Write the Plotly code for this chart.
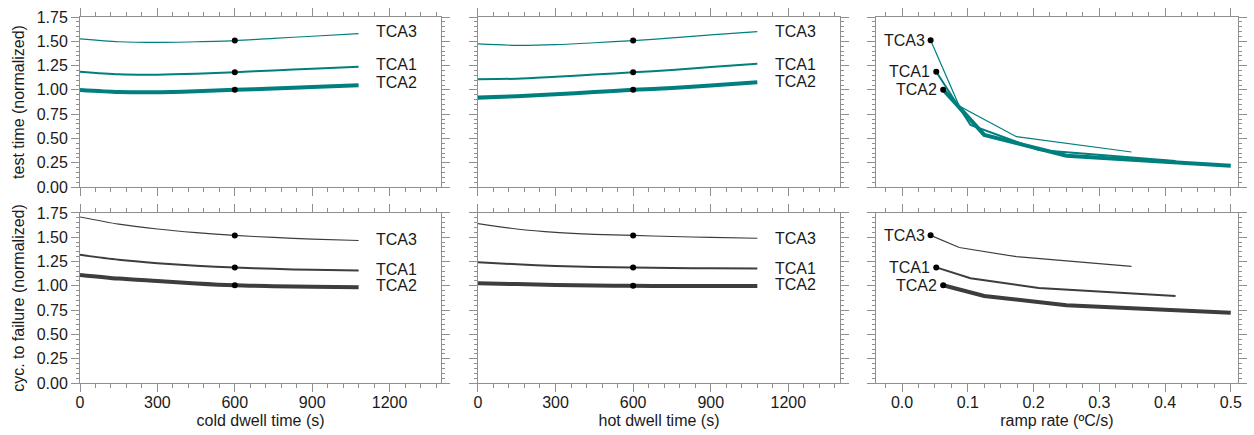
import plotly.graph_objects as go
from plotly.subplots import make_subplots

# ---------------- data ----------------
series_names = ["TCA3", "TCA1", "TCA2"]

dwell_x = [0, 150, 300, 450, 600, 750, 900, 1080]

cold_test_tca3 = [1.525, 1.495, 1.488, 1.495, 1.507, 1.530, 1.552, 1.579]
cold_test_tca1 = [1.187, 1.160, 1.156, 1.165, 1.181, 1.200, 1.218, 1.239]
cold_test_tca2 = [0.999, 0.978, 0.975, 0.985, 1.000, 1.015, 1.030, 1.047]

hot_test_tca3 = [1.473, 1.458, 1.465, 1.485, 1.507, 1.535, 1.565, 1.600]
hot_test_tca1 = [1.109, 1.115, 1.135, 1.157, 1.180, 1.205, 1.235, 1.270]
hot_test_tca2 = [0.920, 0.935, 0.955, 0.977, 1.000, 1.020, 1.045, 1.078]

cold_cyc_tca3 = [1.709, 1.635, 1.585, 1.548, 1.519, 1.498, 1.482, 1.467]
cold_cyc_tca1 = [1.319, 1.268, 1.233, 1.207, 1.188, 1.175, 1.165, 1.157]
cold_cyc_tca2 = [1.113, 1.075, 1.050, 1.025, 1.006, 0.997, 0.990, 0.986]

hot_cyc_tca3 = [1.640, 1.585, 1.550, 1.530, 1.519, 1.508, 1.498, 1.490]
hot_cyc_tca1 = [1.243, 1.222, 1.205, 1.195, 1.188, 1.183, 1.180, 1.178]
hot_cyc_tca2 = [1.027, 1.018, 1.010, 1.004, 1.000, 0.999, 0.999, 0.999]

ramp_x_tca3 = [0.0434, 0.087, 0.174, 0.349]
ramp_x_tca1 = [0.052, 0.104, 0.208, 0.416]
ramp_x_tca2 = [0.0625, 0.125, 0.25, 0.5]

ramp_test_tca3 = [1.511, 0.834, 0.518, 0.360]
ramp_test_tca1 = [1.187, 0.638, 0.381, 0.268]
ramp_test_tca2 = [1.002, 0.536, 0.322, 0.220]

ramp_cyc_tca3 = [1.520, 1.395, 1.300, 1.200]
ramp_cyc_tca1 = [1.190, 1.078, 0.978, 0.896]
ramp_cyc_tca2 = [1.006, 0.896, 0.800, 0.723]

# reference point (nominal dwell 600 s)
ref_dwell = 600

# label heights for the dwell panels
label_y_cold_test = [1.596, 1.256, 1.071]
label_y_hot_test = [1.596, 1.262, 1.081]
label_y_cold_cyc = [1.474, 1.164, 1.004]
label_y_hot_cyc = [1.485, 1.175, 1.009]

y_ticks = [0, 0.25, 0.5, 0.75, 1.0, 1.25, 1.5, 1.75]
dwell_ticks = [0, 300, 600, 900, 1200]
ramp_ticks = [0.0, 0.1, 0.2, 0.3, 0.4, 0.5]

# ---------------- style ----------------
TEAL = "#007f7f"
DARK = "#3d3d3d"
AXC = "#8f8f8f"
FONT = "Liberation Sans, Arial, sans-serif"
FS = 16
widths = [1.2, 2.0, 4.0]

fig = make_subplots(rows=2, cols=3)

panels = [
    (1, 1, dwell_x, [cold_test_tca3, cold_test_tca1, cold_test_tca2], TEAL, label_y_cold_test),
    (1, 2, dwell_x, [hot_test_tca3, hot_test_tca1, hot_test_tca2], TEAL, label_y_hot_test),
    (2, 1, dwell_x, [cold_cyc_tca3, cold_cyc_tca1, cold_cyc_tca2], DARK, label_y_cold_cyc),
    (2, 2, dwell_x, [hot_cyc_tca3, hot_cyc_tca1, hot_cyc_tca2], DARK, label_y_hot_cyc),
]

annotations = []

def axref(row, col):
    n = (row - 1) * 3 + col
    return ("x" if n == 1 else f"x{n}"), ("y" if n == 1 else f"y{n}")

for row, col, xs, ys_list, color, label_ys in panels:
    xr, yr = axref(row, col)
    for name, ys, w, ly in zip(series_names, ys_list, widths, label_ys):
        fig.add_trace(go.Scatter(x=xs, y=ys, mode="lines", line=dict(color=color, width=w, shape="spline", smoothing=0.8),
                                 showlegend=False, hoverinfo="skip"), row=row, col=col)
        idx = xs.index(ref_dwell)
        fig.add_trace(go.Scatter(x=[ref_dwell], y=[ys[idx]], mode="markers",
                                 marker=dict(color="black", size=6), showlegend=False, hoverinfo="skip"),
                      row=row, col=col)
        annotations.append(dict(x=1140, y=ly, xref=xr, yref=yr, text=name, showarrow=False,
                                xanchor="left", yanchor="middle", font=dict(family=FONT, size=FS, color="#1a1a1a")))

ramp_panels = [
    (1, 3, [ramp_test_tca3, ramp_test_tca1, ramp_test_tca2], TEAL),
    (2, 3, [ramp_cyc_tca3, ramp_cyc_tca1, ramp_cyc_tca2], DARK),
]
ramp_xs = [ramp_x_tca3, ramp_x_tca1, ramp_x_tca2]
for row, col, ys_list, color in ramp_panels:
    xr, yr = axref(row, col)
    for name, xs, ys, w in zip(series_names, ramp_xs, ys_list, widths):
        fig.add_trace(go.Scatter(x=xs, y=ys, mode="lines", line=dict(color=color, width=w),
                                 showlegend=False, hoverinfo="skip"), row=row, col=col)
        fig.add_trace(go.Scatter(x=[xs[0]], y=[ys[0]], mode="markers",
                                 marker=dict(color="black", size=6), showlegend=False, hoverinfo="skip"),
                      row=row, col=col)
        annotations.append(dict(x=xs[0], y=ys[0], xref=xr, yref=yr, text=name, showarrow=False,
                                xanchor="right", yanchor="middle", xshift=-4,
                                font=dict(family=FONT, size=FS, color="#1a1a1a")))

# ---------------- axes ----------------
x_domains = [[0, 0.3119], [0.3436, 0.6564], [0.6872, 1.0]]
y_domains = [[0.5355, 1.0], [0.0, 0.4645]]

common = dict(showline=True, linecolor=AXC, linewidth=1, mirror="allticks", ticks="outside",
              tickcolor=AXC, tickwidth=1, ticklen=8, showgrid=False, zeroline=False,
              tickfont=dict(family=FONT, size=FS, color="#1a1a1a"))

for row in (1, 2):
    for col in (1, 2, 3):
        n = (row - 1) * 3 + col
        xk = "xaxis" if n == 1 else f"xaxis{n}"
        yk = "yaxis" if n == 1 else f"yaxis{n}"
        if col < 3:
            xa = dict(range=[0, 1400], tickvals=dwell_ticks,
                      minor=dict(dtick=60, tick0=0, ticks="outside", ticklen=4, tickcolor=AXC, showgrid=False))
        else:
            xa = dict(range=[-0.04, 0.511], tickvals=ramp_ticks, tickformat=".1f",
                      minor=dict(dtick=0.025, tick0=0, ticks="outside", ticklen=4, tickcolor=AXC, showgrid=False))
        xa.update(common)
        xa["domain"] = x_domains[col - 1]
        xa["showticklabels"] = (row == 2)
        xa["ticklabelstandoff"] = -3
        if row == 2:
            xa["title"] = dict(text=["cold dwell time (s)", "hot dwell time (s)", "ramp rate (ºC/s)"][col - 1],
                               font=dict(family=FONT, size=FS, color="#1a1a1a"), standoff=4)
        ya = dict(range=[0, 1.75], tickvals=y_ticks, tickformat=".2f",
                  minor=dict(dtick=0.05, tick0=0, ticks="outside", ticklen=3, tickcolor=AXC, showgrid=False))
        ya.update(common)
        ya["domain"] = y_domains[row - 1]
        ya["showticklabels"] = (col == 1)
        if col == 1:
            ya["title"] = dict(text=["test time (normalized)", "cyc. to failure (normalized)"][row - 1],
                               font=dict(family=FONT, size=FS, color="#1a1a1a"), standoff=8)
        fig.layout[xk].update(xa)
        fig.layout[yk].update(ya)

fig.update_layout(width=1254, height=435, margin=dict(l=80, r=7, t=17, b=52),
                  plot_bgcolor="white", paper_bgcolor="white",
                  font=dict(family=FONT, size=FS, color="#1a1a1a"),
                  annotations=annotations)

fig.write_html("out.html")
